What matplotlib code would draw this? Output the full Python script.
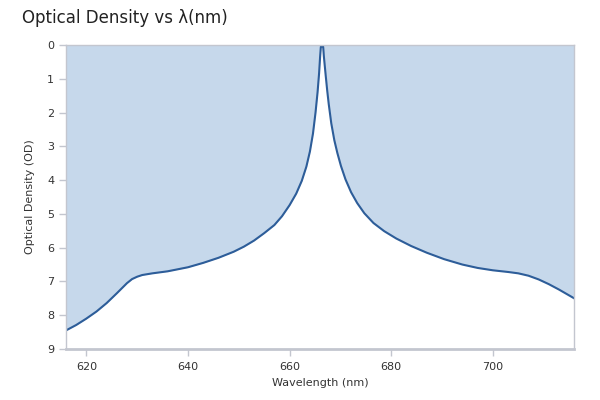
import matplotlib
matplotlib.use("Agg")
import matplotlib.pyplot as plt

# wavelength (nm) and optical density
wavelength = [616, 618, 620, 622, 624, 626, 628, 629, 630, 631, 633, 636,
              640, 643, 646, 649, 651, 653, 655, 657, 658.5, 660, 661.3,
              662.4, 663.3, 664.0, 664.6, 665.1, 665.5, 665.8, 666.0, 666.15,
              666.6, 666.75, 667.1, 667.4, 667.7, 668.2, 668.8, 669.4, 670.1,
              671.0, 672.1, 673.3, 674.7, 676.5, 678.6, 681, 683.9, 687,
              690.4, 694, 697, 700, 703, 705, 707, 709, 711, 713, 716]
od = [8.45, 8.29, 8.1, 7.89, 7.64, 7.35, 7.05, 6.93, 6.86, 6.81, 6.76, 6.7,
      6.58, 6.45, 6.3, 6.12, 5.97, 5.79, 5.57, 5.33, 5.07, 4.74, 4.4,
      4.02, 3.6, 3.15, 2.62, 2.0, 1.4, 0.84, 0.35, 0.05,
      0.05, 0.35, 0.9, 1.35, 1.75, 2.32, 2.82, 3.2, 3.58,
      3.98, 4.36, 4.68, 4.98, 5.27, 5.51, 5.73, 5.95, 6.15,
      6.34, 6.5, 6.6, 6.67, 6.72, 6.76, 6.83, 6.94, 7.08, 7.24, 7.5]

x_ticks = [620, 640, 660, 680, 700]
y_ticks = list(range(0, 10))

line_color = "#2d5d99"
fill_color = "#c6d8eb"
axis_color = "#c3c6cf"
text_color = "#333333"

fig = plt.figure(figsize=(6, 4), dpi=100)
ax = fig.add_axes([0.11, 0.1275, 0.847, 0.76])

ax.fill_between(wavelength, od, 0, color=fill_color, linewidth=0)
ax.plot(wavelength, od, color=line_color, linewidth=1.5,
        solid_joinstyle="round")

ax.set_xlim(616, 716)
ax.set_ylim(9, 0)
ax.set_xticks(x_ticks)
ax.set_yticks(y_ticks)

for side in ["top", "right", "left"]:
    ax.spines[side].set_color(axis_color)
    ax.spines[side].set_linewidth(1)
ax.spines["bottom"].set_color(axis_color)
ax.spines["bottom"].set_linewidth(2)

ax.tick_params(axis="both", colors=axis_color, labelcolor=text_color,
               labelsize=8, length=5, width=1)
ax.tick_params(axis="x", pad=4)

ax.set_xlabel("Wavelength (nm)", fontsize=8, color=text_color, labelpad=5)
ax.set_ylabel("Optical Density (OD)", fontsize=8, color=text_color, labelpad=9)

fig.text(0.037, 0.955, "Optical Density vs λ(nm)", fontsize=12,
         color="#222222", va="center", ha="left")

fig.savefig("out.png", dpi=100)
